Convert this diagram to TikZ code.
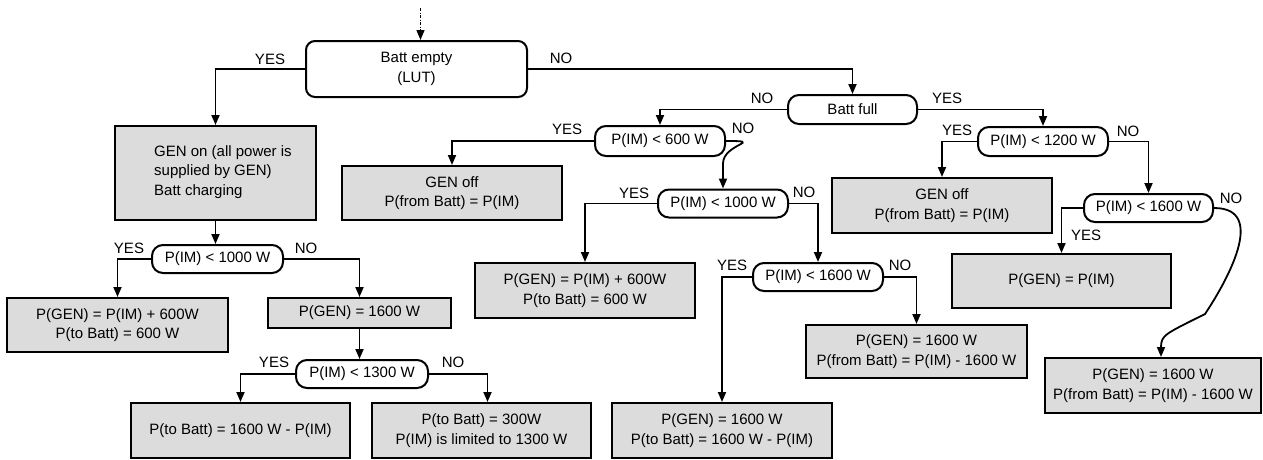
\documentclass[tikz,border=0pt]{standalone}
\usepackage{fontspec}
\setmainfont{Liberation Sans}
\usetikzlibrary{arrows.meta}
\definecolor{boxgray}{RGB}{220,220,220}
\begin{document}
\begin{tikzpicture}[x=1pt,y=-1pt,
  every node/.style={font=\fontsize{15}{19.5}\selectfont},
  dec/.style={draw, line width=2pt, rounded corners=11pt, fill=white, inner sep=0pt, align=center},
  act/.style={draw, line width=2pt, fill=boxgray, inner sep=0pt, align=center},
  arr/.style={line width=1.8pt, -{Triangle[length=10pt,width=8pt]}},
  lab/.style={inner sep=0pt}]
\useasboundingbox (0,0) rectangle (1263,459);

% nodes
\node[dec, rounded corners=9pt, minimum width=221pt, minimum height=56pt] (be) at (416.5,69) {Batt empty\\(LUT)};
\node[dec, minimum width=129pt, minimum height=29pt] (bf) at (852.5,109.5) {Batt full};
\node[dec, minimum width=130pt, minimum height=30pt] (p600) at (660,141) {P(IM) < 600 W};
\node[act, minimum width=220pt, minimum height=54pt] (genoff1) at (452,193) {GEN off\\P(from Batt) = P(IM)};
\node[dec, minimum width=130pt, minimum height=28pt] (p1000) at (723,203.5) {P(IM) < 1000 W};
\node[act, minimum width=220pt, minimum height=55pt] (pgen600m) at (585,290.5) {P(GEN) = P(IM) + 600W\\P(to Batt) = 600 W};
\node[dec, minimum width=130pt, minimum height=28pt] (p1600m) at (818,277) {P(IM) < 1600 W};
\node[act, minimum width=220pt, minimum height=55pt] (bot2) at (722,430.5) {P(GEN) = 1600 W\\P(to Batt) = 1600 W - P(IM)};
\node[act, minimum width=221pt, minimum height=53pt] (fromb1) at (916.5,351.5) {P(GEN) = 1600 W\\P(from Batt) = P(IM) - 1600 W};
\node[dec, minimum width=130pt, minimum height=29pt] (p1200) at (1043,141.5) {P(IM) < 1200 W};
\node[act, minimum width=220pt, minimum height=55pt] (genoff2) at (942,205.5) {GEN off\\P(from Batt) = P(IM)};
\node[dec, minimum width=129pt, minimum height=28pt] (p1600r) at (1148.5,208) {P(IM) < 1600 W};
\node[act, minimum width=219pt, minimum height=54pt] (pgenim) at (1061.5,281) {P(GEN) = P(IM)};
\node[act, minimum width=216pt, minimum height=55pt] (final) at (1153,385.5) {P(GEN) = 1600 W\\P(from Batt) = P(IM) - 1600 W};
\node[act, minimum width=201pt, minimum height=94pt] (genon) at (215.5,173) {};
\node[lab, anchor=west, align=left] (genontext) at (154,172) {GEN on (all power is\\supplied by GEN)\\Batt charging};
\node[dec, minimum width=131pt, minimum height=28pt] (p1000l) at (217.5,259) {P(IM) < 1000 W};
\node[act, minimum width=221pt, minimum height=54pt] (pgen600l) at (117.5,325) {P(GEN) = P(IM) + 600W\\P(to Batt) = 600 W};
\node[act, minimum width=183pt, minimum height=30pt] (pgen1600) at (359.5,313) {P(GEN) = 1600 W};
\node[dec, minimum width=132pt, minimum height=28pt] (p1300) at (362,374) {P(IM) < 1300 W};
\node[act, minimum width=219pt, minimum height=55pt] (tobatt) at (240.5,430.5) {P(to Batt) = 1600 W - P(IM)};
\node[act, minimum width=219pt, minimum height=55pt] (tob300) at (481.5,430.5) {P(to Batt) = 300W\\P(IM) is limited to 1300 W};

% connectors
\coordinate (start) at (420.5,8);
\draw[arr, line width=1.3pt, dash pattern=on 3pt off 1.5pt on 1pt off 1.5pt] (start) -- ([xshift=4pt]be.north);
\draw[arr] (be.west) -| (genon.north);
\draw[arr] (be.east) -| (bf.north);
\draw[arr] (bf.west) -| (p600.north);
\draw[arr] (bf.east) -| (p1200.north);
\draw[arr] (p600.west) -| (genoff1.north);
\draw[arr] (p600.east) .. controls +(40,0) and +(0,-20) .. ([yshift=25pt]p1000.north) -- (p1000.north);
\draw[arr] (p1000.west) -| (pgen600m.north);
\draw[arr] (p1000.east) -| (p1600m.north);
\draw[arr] (p1600m.west) -| (bot2.north);
\draw[arr] (p1600m.east) -| (fromb1.north);
\draw[arr] (p1200.west) -| (genoff2.north);
\draw[arr] (p1200.east) -| (p1600r.north);
\draw[arr] (p1600r.west) -| (pgenim.north);
\draw[arr] (p1600r.east) .. controls +(55,0) and +(20,-30) .. (1205,314) .. controls +(-40,20) and +(0,-22) .. ([xshift=8pt]final.north);
\draw[arr] (genon.south) -- (genon.south |- p1000l.north);
\draw[arr] (p1000l.west) -| (pgen600l.north);
\draw[arr] (p1000l.east) -| (pgen1600.north);
\draw[arr] (pgen1600.south) -- (pgen1600.south |- p1300.north);
\draw[arr] (p1300.west) -| (tobatt.north);
\draw[arr] (p1300.east) -| ([xshift=6pt]tob300.north);

% labels
\node[lab] (l1) at (270,59) {YES};
\node[lab] (l2) at (561,58) {NO};
\node[lab] (l3) at (762,98) {NO};
\node[lab] (l4) at (947,98) {YES};
\node[lab] (l5) at (567,129) {YES};
\node[lab] (l6) at (743,128) {NO};
\node[lab] (l7) at (634,193) {YES};
\node[lab] (l8) at (804,192) {NO};
\node[lab] (l9) at (732,265) {YES};
\node[lab] (l10) at (900,265) {NO};
\node[lab] (l11) at (957,130) {YES};
\node[lab] (l12) at (1128,131) {NO};
\node[lab] (l13) at (1086,235) {YES};
\node[lab] (l14) at (1231,198) {NO};
\node[lab] (l15) at (129,248) {YES};
\node[lab] (l16) at (306,248) {NO};
\node[lab] (l17) at (274,362) {YES};
\node[lab] (l18) at (453,362) {NO};
\end{tikzpicture}
\end{document}
